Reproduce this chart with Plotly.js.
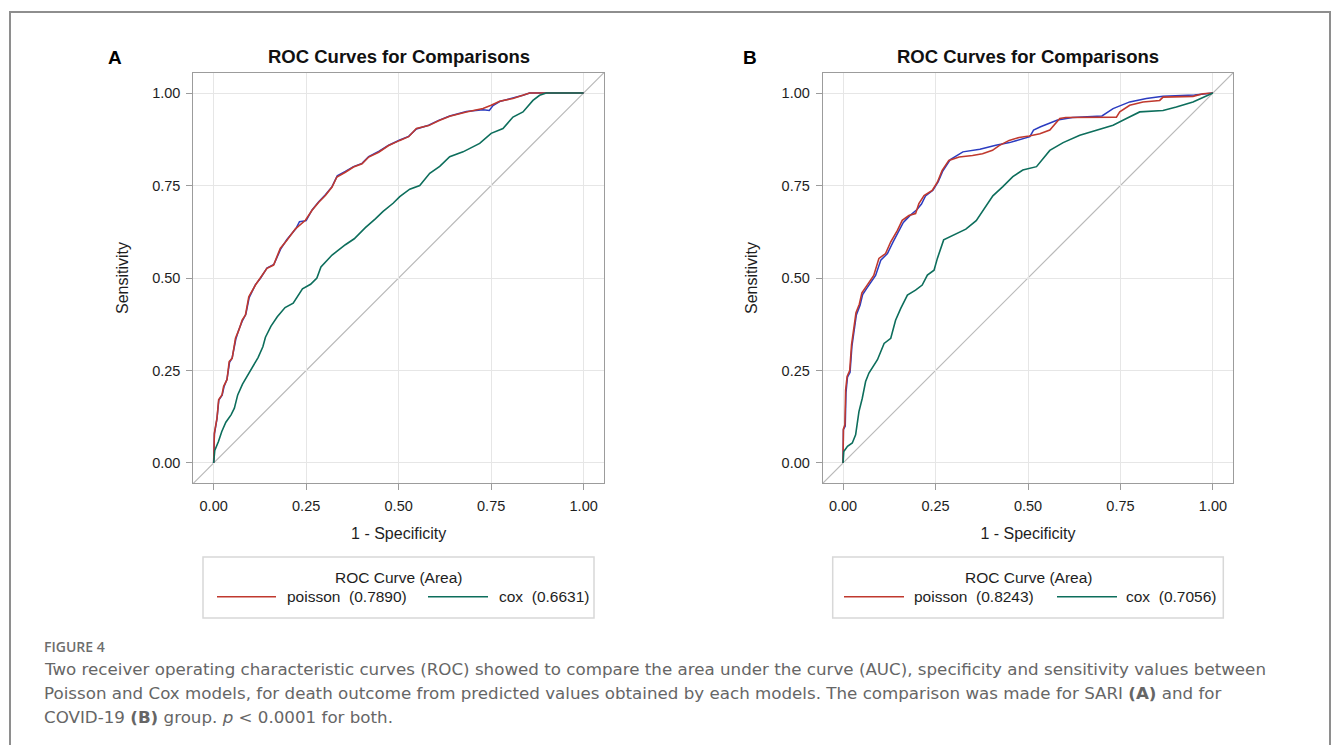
<!DOCTYPE html>
<html>
<head>
<meta charset="utf-8">
<script src="https://cdn.plot.ly/plotly-3.0.1.min.js"></script>
<style>html,body{margin:0;padding:0;background:#fff;}#chart{width:1335px;height:745px;}</style>
</head>
<body>
<div id="chart"></div>
<script>
// ---------- data ----------
const tickValues = [0, 0.25, 0.5, 0.75, 1];
const seriesNames = ["poisson", "cox"];
const aucA = ["0.7890", "0.6631"];
const aucB = ["0.8243", "0.7056"];
const panelLabels = ["A", "B"];

// Panel A (SARI)
const A_poisson_x = [0, 0.002, 0.009, 0.0135, 0.0225, 0.027, 0.036, 0.042, 0.05, 0.059, 0.068, 0.077, 0.086, 0.095, 0.113, 0.126, 0.144, 0.162, 0.18, 0.198, 0.221, 0.248, 0.266, 0.284, 0.302, 0.32, 0.333, 0.356, 0.378, 0.401, 0.419, 0.446, 0.473, 0.503, 0.527, 0.548, 0.581, 0.608, 0.638, 0.683, 0.728, 0.75, 0.773, 0.809, 0.836, 0.854, 1.0];
const A_poisson_y = [0, 0.081, 0.121, 0.171, 0.184, 0.207, 0.225, 0.274, 0.283, 0.337, 0.359, 0.386, 0.40, 0.449, 0.481, 0.499, 0.526, 0.535, 0.58, 0.602, 0.633, 0.656, 0.683, 0.705, 0.723, 0.746, 0.773, 0.786, 0.80, 0.809, 0.827, 0.84, 0.858, 0.872, 0.882, 0.904, 0.912, 0.925, 0.937, 0.949, 0.958, 0.967, 0.978, 0.985, 0.994, 1.0, 1.0];
const A_blue_x = [0, 0.002, 0.009, 0.014, 0.023, 0.028, 0.036, 0.043, 0.05, 0.06, 0.068, 0.078, 0.087, 0.096, 0.113, 0.127, 0.144, 0.163, 0.181, 0.198, 0.222, 0.232, 0.25, 0.266, 0.284, 0.302, 0.32, 0.334, 0.356, 0.378, 0.401, 0.419, 0.446, 0.473, 0.503, 0.527, 0.548, 0.581, 0.608, 0.638, 0.683, 0.728, 0.745, 0.755, 0.773, 0.809, 0.836, 0.854, 1.0];
const A_blue_y = [0, 0.078, 0.119, 0.17, 0.183, 0.206, 0.226, 0.272, 0.284, 0.335, 0.36, 0.385, 0.402, 0.447, 0.482, 0.5, 0.527, 0.537, 0.578, 0.604, 0.633, 0.652, 0.655, 0.684, 0.706, 0.725, 0.747, 0.776, 0.788, 0.801, 0.81, 0.828, 0.842, 0.859, 0.873, 0.883, 0.903, 0.913, 0.926, 0.938, 0.95, 0.955, 0.953, 0.966, 0.977, 0.986, 0.994, 1.0, 1.0];
const A_cox_x = [0, 0.003, 0.013, 0.022, 0.033, 0.047, 0.056, 0.065, 0.078, 0.092, 0.104, 0.12, 0.133, 0.14, 0.155, 0.172, 0.193, 0.215, 0.24, 0.262, 0.279, 0.29, 0.32, 0.356, 0.38, 0.41, 0.437, 0.458, 0.485, 0.503, 0.53, 0.557, 0.584, 0.611, 0.638, 0.674, 0.719, 0.75, 0.782, 0.809, 0.836, 0.863, 0.881, 0.899, 1.0];
const A_cox_y = [0, 0.034, 0.058, 0.085, 0.11, 0.13, 0.148, 0.184, 0.213, 0.238, 0.258, 0.285, 0.314, 0.34, 0.37, 0.395, 0.42, 0.432, 0.471, 0.483, 0.5, 0.53, 0.562, 0.59, 0.606, 0.636, 0.66, 0.68, 0.702, 0.72, 0.74, 0.75, 0.783, 0.802, 0.828, 0.841, 0.864, 0.891, 0.904, 0.935, 0.949, 0.98, 0.994, 1.0, 1.0];

// Panel B (COVID-19)
const B_poisson_x = [0, 0.001, 0.005, 0.007, 0.011, 0.018, 0.023, 0.028, 0.035, 0.044, 0.051, 0.062, 0.072, 0.083, 0.097, 0.115, 0.129, 0.147, 0.16, 0.178, 0.196, 0.205, 0.219, 0.241, 0.255, 0.268, 0.286, 0.314, 0.35, 0.377, 0.404, 0.422, 0.449, 0.476, 0.503, 0.532, 0.559, 0.586, 0.602, 0.629, 0.739, 0.748, 0.775, 0.811, 0.856, 0.865, 0.946, 0.973, 1.0];
const B_poisson_y = [0, 0.092, 0.103, 0.197, 0.234, 0.25, 0.32, 0.36, 0.406, 0.429, 0.46, 0.476, 0.49, 0.507, 0.553, 0.566, 0.598, 0.629, 0.656, 0.669, 0.674, 0.701, 0.723, 0.737, 0.759, 0.791, 0.818, 0.827, 0.831, 0.836, 0.845, 0.858, 0.872, 0.88, 0.884, 0.89, 0.9, 0.931, 0.934, 0.934, 0.935, 0.949, 0.967, 0.976, 0.98, 0.989, 0.991, 0.998, 1.0];
const B_blue_x = [0, 0.001, 0.006, 0.008, 0.012, 0.019, 0.024, 0.029, 0.036, 0.046, 0.053, 0.064, 0.075, 0.088, 0.102, 0.12, 0.135, 0.15, 0.163, 0.18, 0.2, 0.212, 0.223, 0.243, 0.257, 0.27, 0.29, 0.324, 0.37, 0.413, 0.45, 0.505, 0.515, 0.534, 0.58, 0.62, 0.7, 0.73, 0.775, 0.82, 0.865, 0.95, 1.0];
const B_blue_y = [0, 0.09, 0.1, 0.19, 0.232, 0.245, 0.315, 0.355, 0.4, 0.426, 0.455, 0.472, 0.488, 0.507, 0.548, 0.566, 0.597, 0.627, 0.65, 0.668, 0.685, 0.7, 0.722, 0.737, 0.76, 0.79, 0.82, 0.841, 0.848, 0.859, 0.866, 0.882, 0.9, 0.909, 0.927, 0.934, 0.938, 0.958, 0.976, 0.985, 0.991, 0.995, 1.0];
const B_cox_x = [0, 0.002, 0.012, 0.025, 0.034, 0.043, 0.052, 0.061, 0.07, 0.079, 0.093, 0.111, 0.129, 0.142, 0.156, 0.174, 0.196, 0.214, 0.228, 0.246, 0.255, 0.272, 0.305, 0.332, 0.36, 0.38, 0.405, 0.432, 0.459, 0.486, 0.523, 0.559, 0.595, 0.64, 0.685, 0.73, 0.766, 0.802, 0.865, 0.901, 0.946, 0.973, 1.0];
const B_cox_y = [0, 0.031, 0.045, 0.054, 0.076, 0.139, 0.175, 0.22, 0.243, 0.256, 0.279, 0.323, 0.337, 0.386, 0.418, 0.454, 0.467, 0.481, 0.508, 0.521, 0.553, 0.603, 0.62, 0.632, 0.655, 0.685, 0.722, 0.747, 0.774, 0.792, 0.801, 0.845, 0.866, 0.886, 0.9, 0.913, 0.931, 0.949, 0.953, 0.962, 0.976, 0.989, 1.0];

const chartTitle = "ROC Curves for Comparisons";
const xTitle = "1 - Specificity";
const yTitle = "Sensitivity";
const legendTitle = "ROC Curve (Area)";
const figureLabel = "FIGURE 4";
const captionLines = [
  "Two receiver operating characteristic curves (ROC) showed to compare the area under the curve (AUC), specificity and sensitivity values between",
  "Poisson and Cox models, for death outcome from predicted values obtained by each models. The comparison was made for SARI <b>(A)</b> and for",
  "COVID-19 <b>(B)</b> group. <i>p</i> &lt; 0.0001 for both."
];

// ---------- styling & layout ----------
const W = 1335, H = 745;
const PX = v => v / W;
const PY = v => 1 - v / H;
const RED = "#c0392e", GREEN = "#0d6e5c", BLUE = "#2b3cc0";
const SANS = "Liberation Sans, Arial, Helvetica, sans-serif";
const TXT = "#1e1e1e";
const FRAME = "#9c9c9c";

const panels = [
  {xa: "x", ya: "y", left: 193.3, right: 604, label: panelLabels[0], labelX: 115, auc: aucA,
   poisson: [A_poisson_x, A_poisson_y], blue: [A_blue_x, A_blue_y], cox: [A_cox_x, A_cox_y],
   leg: {x0: 203, x1: 594, r0: 217, r1: 276, rt: 285, g0: 428, g1: 488, gt: 497}},
  {xa: "x2", ya: "y2", left: 822.7, right: 1233.3, label: panelLabels[1], labelX: 750, auc: aucB,
   poisson: [B_poisson_x, B_poisson_y], blue: [B_blue_x, B_blue_y], cox: [B_cox_x, B_cox_y],
   leg: {x0: 832.7, x1: 1223.3, r0: 844, r1: 904, rt: 912, g0: 1057, g1: 1117, gt: 1124}}
];
const plotTop = 72.7, plotBottom = 483.3;

const traces = [];
const shapes = [];
const annotations = [];
const layout = {
  width: W, height: H,
  margin: {l: 0, r: 0, t: 0, b: 0},
  paper_bgcolor: "#ffffff", plot_bgcolor: "#ffffff",
  showlegend: false,
  font: {family: SANS, color: TXT, size: 14.5}
};

panels.forEach((p, i) => {
  const sfx = i === 0 ? "" : "2";
  const axCommon = {
    range: [-0.055, 1.055], tickvals: tickValues, tickformat: ".2f",
    showgrid: true, gridcolor: "#e6e6e6", gridwidth: 1,
    showline: true, linecolor: FRAME, linewidth: 1, mirror: true,
    ticks: "outside", ticklen: 6, tickcolor: FRAME, tickwidth: 1,
    zeroline: false, fixedrange: true,
    tickfont: {family: SANS, size: 14.5, color: TXT}
  };
  layout["xaxis" + sfx] = Object.assign({}, axCommon, {
    domain: [PX(p.left), PX(p.right)], anchor: "y" + sfx,
    ticklabelstandoff: 3,
    title: {text: xTitle, font: {family: SANS, size: 16, color: TXT}, standoff: 15}
  });
  layout["yaxis" + sfx] = Object.assign({}, axCommon, {
    domain: [PY(plotBottom), PY(plotTop)], anchor: "x" + sfx,
    ticklabelstandoff: 3,
    title: {text: yTitle, font: {family: SANS, size: 16, color: TXT}, standoff: 19}
  });

  // diagonal reference line (chance), corner to corner of the plot area
  shapes.push({type: "line", xref: p.xa + " domain", yref: p.ya + " domain",
    x0: 0, y0: 0, x1: 1, y1: 1, layer: "below", line: {color: "#b9b9b9", width: 1.2}});

  traces.push({type: "scatter", mode: "lines", x: p.blue[0], y: p.blue[1], xaxis: p.xa, yaxis: p.ya,
    line: {color: BLUE, width: 1.5}, hoverinfo: "x+y", name: ""});
  traces.push({type: "scatter", mode: "lines", x: p.poisson[0], y: p.poisson[1], xaxis: p.xa, yaxis: p.ya,
    line: {color: RED, width: 1.6}, name: seriesNames[0]});
  traces.push({type: "scatter", mode: "lines", x: p.cox[0], y: p.cox[1], xaxis: p.xa, yaxis: p.ya,
    line: {color: GREEN, width: 1.6}, name: seriesNames[1]});

  // panel title and letter
  const cx = (p.left + p.right) / 2;
  annotations.push({xref: "paper", yref: "paper", x: PX(cx), y: PY(56.5), xanchor: "center", yanchor: "middle",
    text: "<b>" + chartTitle + "</b>", showarrow: false, font: {family: SANS, size: 18.5, color: "#111"}});
  annotations.push({xref: "paper", yref: "paper", x: PX(p.labelX), y: PY(57.5), xanchor: "center", yanchor: "middle",
    text: "<b>" + p.label + "</b>", showarrow: false, font: {family: SANS, size: 19, color: "#000"}});

  // legend box (drawn like the SAS legend)
  const L = p.leg;
  shapes.push({type: "rect", xref: "paper", yref: "paper", x0: PX(L.x0), x1: PX(L.x1), y0: PY(618), y1: PY(557),
    line: {color: "#d8d8d8", width: 1.5}, fillcolor: "rgba(0,0,0,0)"});
  annotations.push({xref: "paper", yref: "paper", x: PX((L.x0 + L.x1) / 2), y: PY(577), xanchor: "center", yanchor: "middle",
    text: legendTitle, showarrow: false, font: {family: SANS, size: 15.5, color: TXT}});
  shapes.push({type: "line", xref: "paper", yref: "paper", x0: PX(L.r0), x1: PX(L.r1), y0: PY(596.7), y1: PY(596.7),
    line: {color: RED, width: 1.6}});
  shapes.push({type: "line", xref: "paper", yref: "paper", x0: PX(L.g0), x1: PX(L.g1), y0: PY(596.7), y1: PY(596.7),
    line: {color: GREEN, width: 1.6}});
  annotations.push({xref: "paper", yref: "paper", x: PX(L.rt), y: PY(596.5), xanchor: "left", yanchor: "middle",
    text: seriesNames[0] + " \u00a0(" + p.auc[0] + ")", showarrow: false, font: {family: SANS, size: 15.5, color: TXT}});
  annotations.push({xref: "paper", yref: "paper", x: PX(L.gt), y: PY(596.5), xanchor: "left", yanchor: "middle",
    text: seriesNames[1] + " \u00a0(" + p.auc[1] + ")", showarrow: false, font: {family: SANS, size: 15.5, color: TXT}});
});

// outer figure frame
shapes.push({type: "rect", xref: "paper", yref: "paper", x0: PX(10), x1: PX(1330), y0: PY(760), y1: PY(12),
  line: {color: "#8e8e8e", width: 2}, fillcolor: "rgba(0,0,0,0)", layer: "below"});

// caption
const CAP = "DejaVu Sans, Verdana, sans-serif";
annotations.push({xref: "paper", yref: "paper", x: PX(42), y: PY(646), xanchor: "left", yanchor: "middle",
  text: figureLabel, showarrow: false, font: {family: "Open Sans, sans-serif", size: 14, color: "#6e6e6e", weight: 600}});
const capY = [669, 693, 717];
captionLines.forEach((t, k) => {
  annotations.push({xref: "paper", yref: "paper", x: PX(42), y: PY(capY[k]), xanchor: "left", yanchor: "middle",
    text: t, showarrow: false, align: "left", font: {family: CAP, size: 16.7, color: "#666666"}});
});

layout.shapes = shapes;
layout.annotations = annotations;

Plotly.newPlot("chart", traces, layout, {staticPlot: true, displayModeBar: false});
</script>
</body>
</html>
